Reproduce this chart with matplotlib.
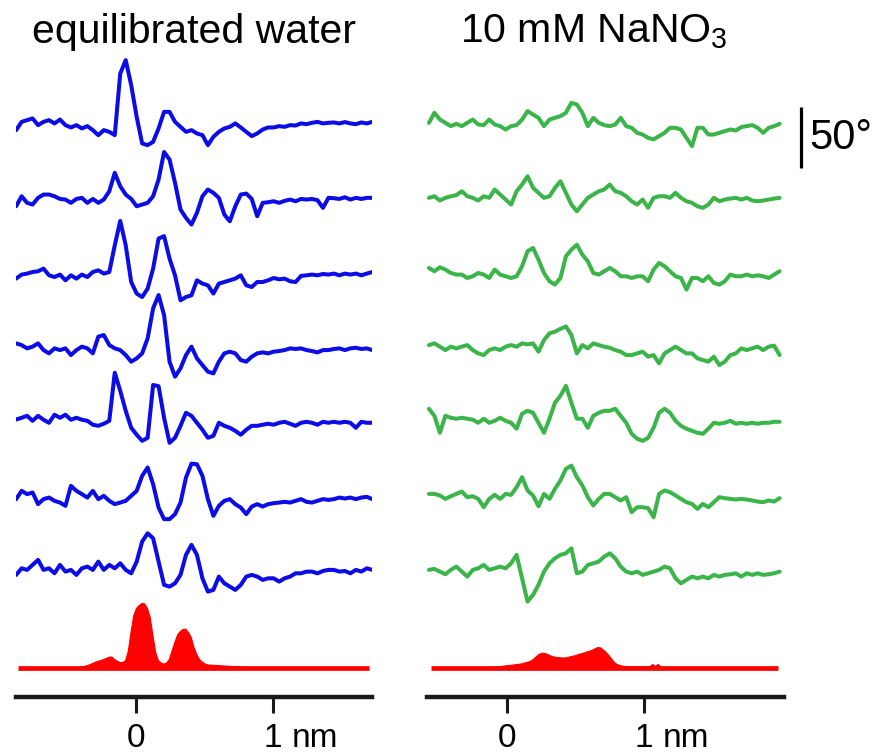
import numpy as np
import matplotlib
matplotlib.use("Agg")
import matplotlib.pyplot as plt

plt.rcParams["font.family"] = ["Liberation Sans", "DejaVu Sans"]
plt.rcParams["mathtext.default"] = "regular"

# ---- data -------------------------------------------------------------
# Torsion-angle traces (degrees) sampled every 0.04 nm along the path
STEP_NM = 0.04
WATER_X0 = -0.875
NANO3_X0 = -0.57

water_traces = [
    [-4.1, 2.7, 4.1, 5.5, 0, 2.7, 4.1, 1.4, 4.6, 0,
     -1.9, 0, -2.7, -0.8, -4.1, -8.2, -4.1, -5.5, -8.2, 42.3,
     53.3, 32.8, 6.8, -15, -16.4, -13.7, -2.7, 10.9, 10.9, 2.7,
     -1.4, -5.5, -4.1, -6.8, -8.2, -16.4, -9.6, -5.5, -2.7, -1.4,
     1.4, -1.9, -5.5, -9, -6.8, -3.6, -1.9, -1.9, -0.8, -1.4,
     0, -0.3, 1.4, 0.8, 1.9, 2.7, 1.4, 1.9, 2.2, 1.4,
     2.5, 1.4, 0.8, 2.2, 1.4, 2.7],
    [-5.5, 2.7, -2.7, -4.1, 1.4, 4.1, 4.1, 2.7, 0.5, 0,
     -2.7, 0.5, 1.4, -2.7, 0.5, -2.7, 0, 6.8, 21.9, 10.9,
     4.1, 0.5, -5.5, -4.1, -2.7, 2.7, 16.4, 39, 32.8, 13.7,
     -8.2, -15, -20.5, -10.9, 2.7, 8.2, 5.5, 1.4, -12.3, -17.8,
     -5.5, 4.1, 4.9, 0.5, -13.7, -2.7, -2.2, -1.4, -2.7, -1.1,
     0, -1.4, 0.5, 0, 0.5, -0.5, -6.8, 1.4, 1.1, 0.5,
     1.9, 0, 1.4, 0.5, 1.4, 1.4],
    [-3.8, -0.5, 0.3, 1.6, 2.2, 4.4, -1.1, -2.5, -0.5, -5.2,
     -1.1, -3.8, -0.5, -2.5, 1.6, 3, 0.3, 1.6, 23.5, 43.5,
     23.5, -6.6, -16.1, -18.9, -12, 4.4, 29, 31, 12.6, -1.1,
     -21.6, -18.9, -17.5, -5.2, -7.9, -9.3, -16.1, -7.9, -6.6, -5.2,
     -3.8, -1.1, -9.3, -10.7, -6.6, -6.6, -5.2, -3.3, -4.4, -3.8,
     -6, -6.6, -1.6, -1.1, -0.5, -1.1, 0, -0.5, 0.3, -1.1,
     0.3, -0.5, 0.3, -1.1, 0.3, 1.6],
    [4.1, 2.7, 0, 1.4, 4.1, -1.4, -4.1, 0, -1.4, 0,
     -5.5, -1.4, 1.4, 0, -4.1, 9.6, 10.9, 2.7, 0, -1.4,
     -5.5, -10.9, -8.2, -4.1, 8.2, 32.8, 43.7, 27.3, -10.9, -23.2,
     -16.4, -5.5, 1.4, -8.2, -13.7, -19.1, -20.5, -10.9, -4.1, -2.7,
     -4.1, -9.6, -10.9, -6.8, -4.1, -3.3, -4.1, -2.7, -2.2, -1.4,
     0, -0.5, 0, -1.4, -2.2, -3.3, -1.4, -1.4, -0.5, 0,
     -1.4, 0, 0.5, -0.5, 0, -1.4],
    [2.7, 4.1, 5.7, 1.6, 5.7, 2.5, 0, 6.6, 4.1, 6.6,
     2.5, 4.1, 2.5, 1.6, -1.6, -2.5, -0.8, 1.6, 41, 26.2,
     9.8, -4.1, -9.8, -14.8, -12.3, 31, 30, 4.1, -16.4, -12.3,
     -2.5, 8.2, 5.7, 0, -5.7, -12.3, -10.7, 0, -2.5, -4.1,
     -6.6, -9.8, -5.7, -2.5, -2.5, -1.6, -0.8, -1.6, 0, 0.8,
     -0.8, -2.5, 0, 0.8, 0, -1.6, 0.8, 0, 0.8, 0,
     0.8, 0, -4.1, 0.8, 0, 0],
    [-1.6, 5.2, 2.5, 3.8, -5.7, -1.6, -0.3, -3, -4.4, -7.1,
     9.3, 5.2, 2.5, -0.3, 5.2, -1.6, 1.1, -3, -5.7, -4.4,
     -3, 1.1, 5.2, 17.5, 24.3, 10.7, -8.5, -18, -18, -13.9,
     -4.4, 16.1, 27.5, 27, 17.5, -1.6, -15.3, -7.1, -3, -1.6,
     -5.7, -8.5, -13.9, -7.7, -5.7, -7.7, -5.7, -4.9, -4.4, -3.8,
     -4.4, -3, -1.6, -3.8, -4.4, -3, -1.6, -2.2, -1.6, -0.3,
     -1.1, -0.3, -1.6, -0.3, 0.3, -1.6],
    [-2.7, 2.7, 1.4, 5.5, 9.6, 1.4, 2.7, -1.4, 5.5, 0,
     1.4, -2.7, 2.7, 4.1, 1.4, 8.2, 1.4, 5.5, 2.7, 6.8,
     1.4, -1.4, 8.2, 24.6, 31.4, 27.3, 8.2, -10.9, -12.3, -9.6,
     -2.7, 13.7, 21.9, 13.7, -5.5, -16.4, -15, -4.1, -9.6, -12.3,
     -15, -10.9, -4.1, -2.7, -4.1, -6.8, -5.5, -5.5, -8.2, -5.5,
     -4.1, -1.4, -1.4, 0, 0, -1.4, 0.5, 1.4, 1.4, 0,
     0.5, -1.4, 1.4, 0, 2.7, 1.4],
]

nano3_traces = [
    [1.9, 10.1, 4.6, 1.9, -0.8, 1.1, -0.8, 1.9, 4.6, 0.5,
     0, 4.6, 0.5, -0.8, -3.6, -0.8, 0, 4.6, 11.5, 8.7,
     6, -0.8, 4.6, 6, 7.4, 10.1, 18.3, 16.9, 10.1, -0.8,
     6, 1.9, 0, -0.8, 0.5, 6, -0.8, -2.2, -6.3, -7.7,
     -10.4, -11.7, -9, -6.3, -2.2, -2.2, -3.6, -10.4, -17.2, -2.2,
     -2.2, -7.7, -7.7, -6.3, -4.9, -3.6, -4.4, -1.6, -0.8, 0,
     -2.2, -6.3, -2.2, -0.8, 1.1],
    [1.4, 2.7, -0.8, 1.4, 2.7, 3.6, 6.8, 2.7, 1.4, -0.8,
     2.7, 1.4, 8.2, 4.1, 0, -4.1, 6.8, 12.3, 19.1, 9.6,
     5.5, 1.4, 2.7, 9.6, 15, 5.5, -4.1, -9.6, -4.1, 1.4,
     4.1, 6.8, 8.2, 12.3, 6.8, 5.5, 2.7, -1.4, -4.1, 0,
     -6.8, 1.4, 2.7, 2.7, 1.4, 5.5, 1.4, -1.4, -2.7, -5.5,
     -6.8, -4.1, 1.4, -1.4, 0, 0.8, 1.4, 0, 1.4, -0.8,
     -1.4, -0.8, 0, 0.8, 1.4],
    [4.9, 2.2, 5.5, 3.6, 0.8, -0.5, -0.5, -3.3, -1.9, 0.8,
     -0.5, -3.3, 3.6, -0.5, -1.9, -3.3, -1.9, 6.3, 18.6, 21.3,
     11.7, 0.8, -6, -8.7, -3.3, 14.5, 19.9, 24, 15.8, 10.4,
     0.8, -0.5, 2.2, 4.9, 2.2, -1.9, -1.9, -3.3, -1.9, -1.9,
     -6, 3.6, 9, 6.3, 2.2, -1.9, -3.3, -12.8, -3.3, -3.3,
     -6, -1.9, -7.4, -8.7, -6, -0.5, -1.9, -1.9, -0.5, -1.9,
     -1.1, -1.9, -3.3, -0.5, 2.2],
    [2.7, 4.1, 1.4, -1.4, 1.4, 0, 1.4, 2.7, -1.4, -4.1,
     -5.5, -1.4, 0, -1.4, 1.4, 2.7, 1.4, 4.1, 3.3, 4.1,
     -2.7, 6.8, 12.3, 13.7, 16, 18, 10.9, -4.1, 2.7, 0,
     4.1, 2.7, 1.4, 0.5, -1.4, -2.7, -5.5, -5.5, -4.1, -2.7,
     -6.8, -5.5, -12.3, -4.1, -1.4, 1.4, -1.4, -4.1, -4.1, -8.2,
     -9.6, -10.9, -6.8, -13.7, -10.9, -5.5, -4.1, 0, -1.4, 0,
     1.4, -1.4, 1.4, 2.2, -5.5],
    [11.5, 5.7, -8.2, 5.7, 4.1, 3.3, 4.1, 3.3, 2.5, 0,
     3.3, 0, 1.6, 4.1, 1.6, 0, -4.9, 7.4, 9.8, 8.2,
     0, -8.2, 3.3, 16.4, 22.1, 30.3, 16.4, 3.3, 3.3, -4.1,
     5.7, 8.2, 9.8, 9.8, 11.5, 5.7, 0, -9, -13.1, -14.8,
     -12.3, -4.1, 8.2, 11.5, 8.2, 1.6, -2.5, -4.9, -6.6, -8.2,
     -9, -4.9, 0, -0.8, 0, 1.6, -0.8, 0, -0.8, 0,
     -0.8, 0, 0, 0.8, 0.8],
    [2.7, 2.7, 1.4, -1.4, 0.8, 2.7, 4.6, 0, 0.8, -1.4,
     -8.2, -1.4, 1.9, -1.4, 2.7, 1.9, 8.2, 16.4, 5.5, 1.4,
     -7.4, 2.7, -1.4, 6.8, 13.7, 23.2, 25.9, 16.4, 9.6, 0,
     -6.8, -1.4, 2.7, 2.7, 0, -2.7, 0, -12.3, -8.2, -8.2,
     -9, -16.4, 2.7, 5.5, 4.1, 1.4, -1.4, -4.1, -5.5, -9.6,
     -5.5, -8.2, -4.1, 0, -0.8, -1.4, -1.9, -1.4, -1.9, -2.7,
     -3.6, -4.1, -2.7, -3.6, -0.8],
    [1.4, 2.2, 0, -2.2, 1.4, 4.1, 0, -4.1, 1.4, 2.7,
     5.5, 1.4, 2.7, 4.1, 2.7, 6.8, 13.7, -5.5, -24.6, -19.1,
     -10.9, 0, 6.8, 10.9, 13.7, 15, 19.1, -1.4, 0, 5.5,
     6.8, 8.2, 12.3, 15, 10.9, 4.1, 0, -1.4, 0, -2.7,
     -1.4, 0, 1.4, 4.1, 2.7, -5.5, -9.6, -6.8, -4.1, -5.5,
     -4.1, -5.5, -2.7, -4.1, -2.7, -2.2, -1.4, -4.1, -1.4, -2.7,
     -1.4, -2.7, -2.2, -1.4, 0],
]

# Ion/water density profiles (arbitrary units) on a 0.02 nm grid
DENS_STEP = 0.02
WATER_DENS_X0 = -0.44
water_density = [
    0.3, 0.8, 1.5, 2.0, 2.8, 3.8, 5.0, 6.3, 7.0, 8.0,
    9.0, 10.0, 11.3, 11.5, 9.0, 7.3, 5.8, 6.0, 7.7, 17.0,
    36.0, 53.0, 60.0, 63.0, 65.0, 64.5, 60.0, 51.0, 33.0, 16.0,
    8.0, 5.5, 4.3, 5.5, 9.0, 17.7, 26.0, 33.5, 37.0, 39.0,
    39.3, 36.0, 31.0, 21.0, 14.0, 9.0, 6.5, 4.5, 3.6, 3.3,
    3.2, 3.0, 2.9, 2.7, 2.5, 2.3, 2.1, 2.0, 1.8, 1.6,
    1.4, 1.2, 1.0,
]
NANO3_DENS_X0 = -0.20
nano3_density = [
    0.7, 0.7, 0.8, 0.9, 1.0, 1.2, 1.5, 1.8, 2.1, 2.5,
    2.8, 3.1, 3.4, 3.8, 4.1, 4.5, 5.2, 6.0, 6.7, 8.0,
    10.5, 13.0, 14.7, 15.3, 14.7, 13.5, 12.3, 11.5, 11.0, 10.7,
    10.5, 10.5, 11.0, 11.7, 12.3, 13.0, 14.0, 14.8, 15.5, 16.5,
    17.3, 18.3, 19.7, 21.0, 20.5, 18.5, 16.0, 13.0, 9.5, 6.0,
    4.0, 3.0, 2.4, 2.0, 1.8, 1.7, 1.6, 1.6, 1.6, 1.5,
    1.5, 1.5, 2.0, 4.0, 2.0, 4.0, 1.5, 1.0, 0.8, 0.7,
    0.7,
]

titles = ["equilibrated water", "10 mM NaNO$_3$"]
tick_positions = [0, 1]
tick_labels = ["0", "1"]
unit_label = "nm"
SCALE_BAR_DEG = 50

# ---- styling / layout ---------------------------------------------------
BLUE = "#0c0ce6"
GREEN = "#3bb54a"
RED = "#ff0000"
AXIS_COLOR = "#1a1a1a"
TRACE_LW = 2.9
TRACE_SPACING = 61.0          # vertical offset between traces (deg)
FIRST_OFFSET = 79.0           # lowest trace baseline (deg above density baseline)
DENS_PEAK_DEG = 53.3          # drawn height of the tallest density peak
YLIM = (-23.8, 506.6)
TICK_LEN = 11.5
TICK_PAD = 7.0
LABEL_SIZE = 24

W, H = 877, 756
fig = plt.figure(figsize=(W / 100, H / 100), dpi=100)
axL = fig.add_axes([16 / W, 59 / H, 356 / W, 647 / H])
axR = fig.add_axes([427 / W, 59 / H, 357 / W, 647 / H])
axL.set_xlim(-0.876, 1.723)
axR.set_xlim(-0.584, 2.022)

dens_scale = DENS_PEAK_DEG / max(water_density)


def draw_panel(ax, traces, x0, color, dens, dens_x0, baseline_span):
    for k, vals in enumerate(traces):
        y = np.asarray(vals, dtype=float)
        x = x0 + STEP_NM * np.arange(len(y))
        offset = FIRST_OFFSET + TRACE_SPACING * (len(traces) - 1 - k)
        ax.plot(x, y + offset, color=color, lw=TRACE_LW,
                solid_joinstyle="round", solid_capstyle="round")
    d = np.asarray(dens, dtype=float) * dens_scale
    xd = dens_x0 + DENS_STEP * np.arange(len(d))
    ax.fill_between(xd, 0, d, color=RED, lw=0.8, edgecolor=RED)
    ax.plot(baseline_span, [0, 0], color=RED, lw=3.4, solid_capstyle="butt")

    ax.set_ylim(*YLIM)
    for s in ("left", "right", "top"):
        ax.spines[s].set_visible(False)
    ax.spines["bottom"].set_linewidth(3.2)
    ax.spines["bottom"].set_color(AXIS_COLOR)
    ax.set_yticks([])
    ax.set_xticks(tick_positions, tick_labels)
    ax.tick_params(axis="x", direction="out", length=TICK_LEN, width=2.2,
                   color=AXIS_COLOR, pad=TICK_PAD, labelsize=LABEL_SIZE,
                   labelcolor="black")
    ax.annotate(unit_label, xy=(tick_positions[-1], 0),
                xycoords=("data", "axes fraction"),
                xytext=(13.5, -(TICK_LEN + TICK_PAD)),
                textcoords="offset points",
                ha="left", va="top", fontsize=LABEL_SIZE,
                annotation_clip=False)
    ax.patch.set_visible(False)


draw_panel(axL, water_traces, WATER_X0, BLUE, water_density,
           WATER_DENS_X0, [-0.861, 1.701])
draw_panel(axR, nano3_traces, NANO3_X0, GREEN, nano3_density,
           NANO3_DENS_X0, [-0.555, 1.978])

# panel titles
fig.text(193.5 / W, 1 - 32 / H, titles[0], ha="center", va="center",
         fontsize=29.5)
fig.text(593.5 / W, 1 - 32 / H, titles[1], ha="center", va="center",
         fontsize=29.5)

# vertical scale bar
bar_top = 459.8
axR.plot([2.146, 2.146], [bar_top - SCALE_BAR_DEG, bar_top], color="black",
         lw=2.3, clip_on=False, solid_capstyle="butt")
axR.text(2.204, bar_top - SCALE_BAR_DEG / 2, f"{SCALE_BAR_DEG}°",
         ha="left", va="center", fontsize=30, clip_on=False)

fig.savefig("out.png", dpi=100)
